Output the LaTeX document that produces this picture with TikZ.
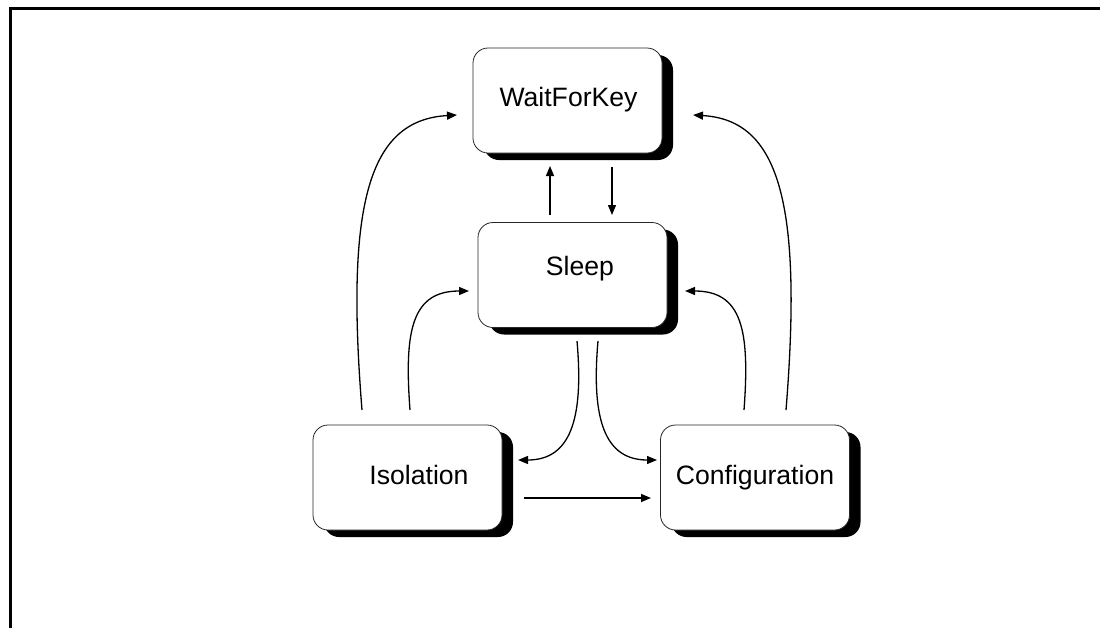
\documentclass[tikz,border=0pt]{standalone}
\usepackage{fontspec}
\setmainfont{Liberation Sans}
\usetikzlibrary{arrows.meta,shadows}
\begin{document}
\begin{tikzpicture}[x=1pt,y=-1pt,
  statebox/.style={rectangle, rounded corners=15pt, draw=black!85, line width=0.8pt,
    fill=white, minimum width=189pt, minimum height=105pt, inner sep=0pt,
    drop shadow={shadow xshift=11pt, shadow yshift=-7pt, fill=black, opacity=1}},
  lbl/.style={anchor=base, inner sep=0pt, font=\fontsize{26.6pt}{32pt}\selectfont},
  arr/.style={line width=1.3pt, -{Triangle[length=10pt,width=8pt]}},
  frame/.style={line width=3.3pt}
]
\useasboundingbox (0,0) rectangle (1100,627);
\clip (0,0) rectangle (1100,627);
% frame
\coordinate (fbl) at (10.7,640);
\coordinate (ftl) at (10.7,8.3);
\coordinate (ftr) at (1110,8.3);
\draw[frame] (fbl) -- (ftl) -- (ftr);

% boxes
\node[statebox] (wfk) at (567.5,100.5) {};
\node[statebox] (slp) at (572.5,275) {};
\node[statebox] (iso) at (407.5,477.5) {};
\node[statebox] (cfg) at (755,477.5) {};

% labels
\node[lbl] (wfkt) at (568.5,106.7) {WaitForKey};
\node[lbl] (slpt) at (580,275) {Sleep};
\node[lbl] (isot) at (419,484) {Isolation};
\node[lbl] (cfgt) at (755,484) {Configuration};

% connector end points
\coordinate (a1s) at (362,410); \coordinate (a1e) at (457,115);
\coordinate (a2s) at (410,410); \coordinate (a2e) at (469,291);
\coordinate (a7s) at (744,410); \coordinate (a7e) at (685,291);
\coordinate (a8s) at (786,410); \coordinate (a8e) at (693,115);
\coordinate (a4s) at (577,341); \coordinate (a4e) at (518,460);
\coordinate (a5s) at (598,341); \coordinate (a5e) at (657,460);
\coordinate (a6s) at (524,498); \coordinate (a6e) at (651,498);
\coordinate (aus) at (550,215); \coordinate (aue) at (550,166);
\coordinate (ads) at (612,167); \coordinate (ade) at (612,215);

% connectors
\draw[arr] (a1s) .. controls (345,200) and (370,120) .. (a1e);
\draw[arr] (a2s) .. controls (404,330) and (412,291) .. (a2e);
\draw[arr] (a7s) .. controls (750,330) and (742,291) .. (a7e);
\draw[arr] (a8s) .. controls (803,200) and (778,120) .. (a8e);
\draw[arr] (a4s) .. controls (584,420) and (570,460) .. (a4e);
\draw[arr] (a5s) .. controls (591,420) and (605,460) .. (a5e);
\draw[arr] (a6s) -- (a6e);
\draw[arr] (aus) -- (aue);
\draw[arr] (ads) -- (ade);
\end{tikzpicture}
\end{document}
